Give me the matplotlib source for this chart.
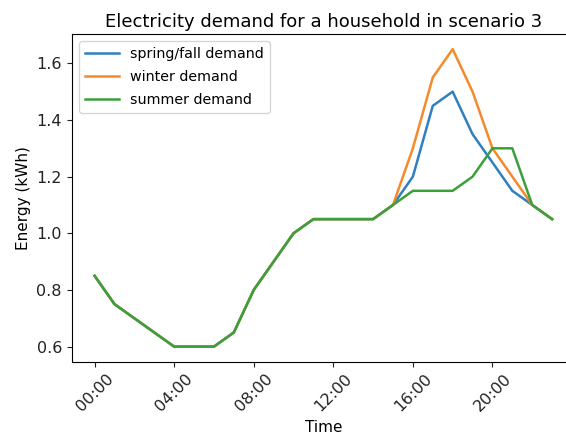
import matplotlib
matplotlib.use("Agg")
import matplotlib.pyplot as plt

hours = list(range(24))
spring_fall = [0.85, 0.75, 0.70, 0.65, 0.60, 0.60, 0.60, 0.65, 0.80, 0.90, 1.00, 1.05,
               1.05, 1.05, 1.05, 1.10, 1.20, 1.45, 1.50, 1.35, 1.25, 1.15, 1.10, 1.05]
winter = [0.85, 0.75, 0.70, 0.65, 0.60, 0.60, 0.60, 0.65, 0.80, 0.90, 1.00, 1.05,
          1.05, 1.05, 1.05, 1.10, 1.30, 1.55, 1.65, 1.50, 1.30, 1.20, 1.10, 1.05]
summer = [0.85, 0.75, 0.70, 0.65, 0.60, 0.60, 0.60, 0.65, 0.80, 0.90, 1.00, 1.05,
          1.05, 1.05, 1.05, 1.10, 1.15, 1.15, 1.15, 1.20, 1.30, 1.30, 1.10, 1.05]
tick_hours = [0, 4, 8, 12, 16, 20]
tick_labels = ["00:00", "04:00", "08:00", "12:00", "16:00", "20:00"]

W, H = 566, 434
fig = plt.figure(figsize=(W / 100, H / 100), dpi=100)
left, right, top, bottom = 71.7, 575.0, 34.3, 361.5
ax = fig.add_axes([left / W, 1 - bottom / H, (right - left) / W, (bottom - top) / H])

ax.plot(hours, spring_fall, color="#2f80c0", lw=1.8, label="spring/fall demand")
ax.plot(hours, winter, color="#f58a2a", lw=1.8, label="winter demand")
ax.plot(hours, summer, color="#3aa03a", lw=1.8, label="summer demand")

ax.set_xticks(tick_hours)
ax.set_xticklabels(tick_labels, rotation=45)
ax.set_yticks([0.6, 0.8, 1.0, 1.2, 1.4, 1.6])
ax.tick_params(labelsize=11.5, colors="#222222")
ax.set_xlabel("Time", fontsize=11)
ax.set_ylabel("Energy (kWh)", fontsize=11)
ax.set_title("Electricity demand for a household in scenario 3", fontsize=13, pad=5)
ax.legend(loc="upper left", fontsize=10.3, handlelength=2.4, labelspacing=0.62)

fig.savefig("out.png", dpi=100)
